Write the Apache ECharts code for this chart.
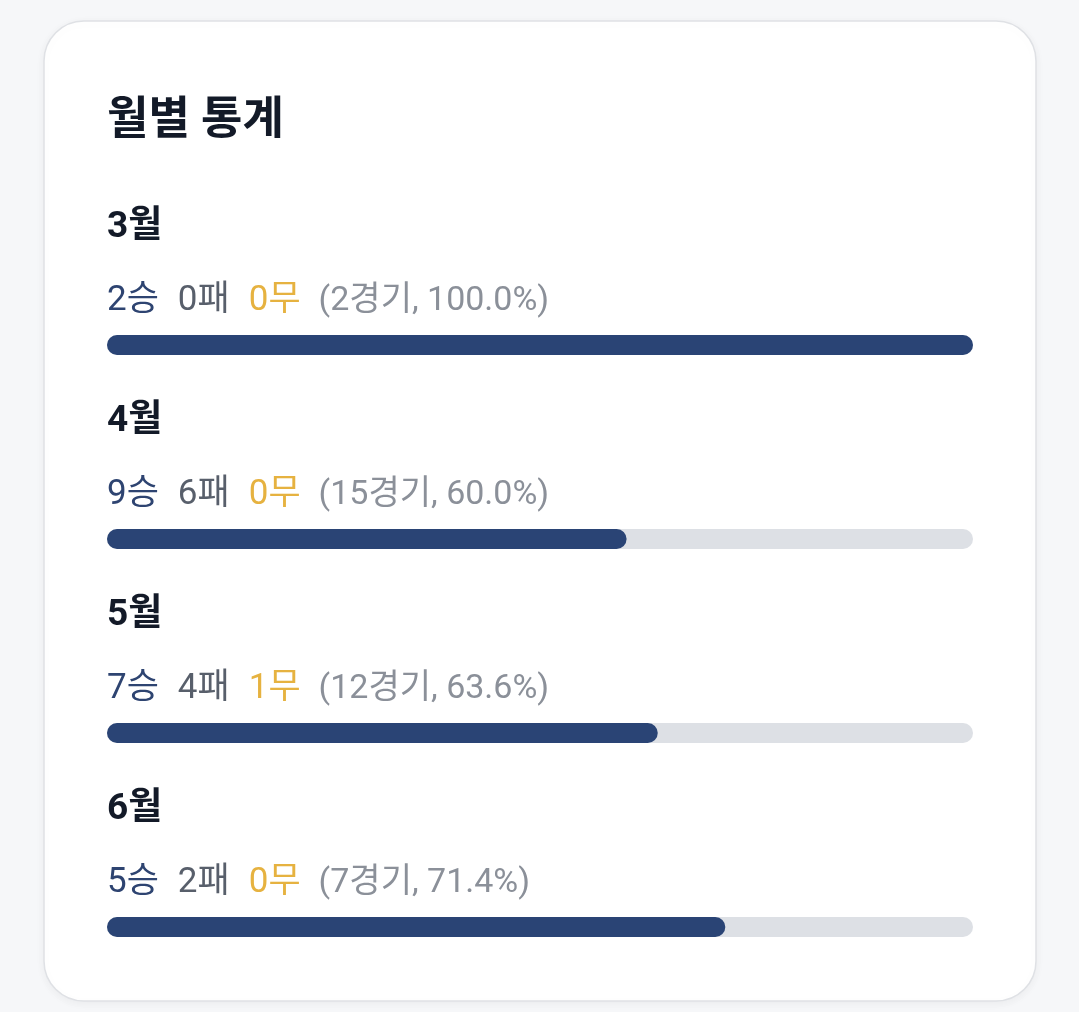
<!DOCTYPE html>
<html>
<head>
<meta charset="utf-8">
<script src="https://cdn.jsdelivr.net/npm/echarts@6/dist/echarts.min.js"></script>
<style>
  html, body { margin: 0; padding: 0; background: #f6f7f9; }
  #chart { width: 1079px; height: 1012px; }
</style>
</head>
<body>
<div id="chart"></div>
<script>
// ---- data ----
const titleText = '월별 통계';
const months = ['3월', '4월', '5월', '6월'];
const wins = [2, 9, 7, 5];
const losses = [0, 6, 4, 2];
const draws = [0, 0, 1, 0];
const games = [2, 15, 12, 7];
const winRate = [100.0, 60.0, 63.6, 71.4];

const FONT = "Roboto, 'Noto Sans CJK KR', sans-serif";

const chart = echarts.init(document.getElementById('chart'), null, { renderer: 'canvas' });

const option = {
  backgroundColor: '#f6f7f9',
  animation: false,
  graphic: [{
    type: 'rect',
    z: 0,
    shape: { x: 44, y: 21, width: 992, height: 980, r: 40 },
    style: {
      fill: '#ffffff',
      stroke: '#dfe1e5',
      lineWidth: 1.5,
      shadowBlur: 10,
      shadowColor: 'rgba(0,0,0,0.05)',
      shadowOffsetY: 2
    }
  }],
  title: {
    text: titleText,
    left: 107,
    top: 100,
    padding: 0,
    textStyle: { fontFamily: FONT, fontSize: 45, fontWeight: 'bold', color: '#131a28' }
  },
  grid: { left: 107, top: 248, width: 866, height: 776, outerBoundsMode: 'none' },
  xAxis: { type: 'value', min: 0, max: 100, show: false },
  yAxis: { type: 'category', data: months, inverse: true, show: false },
  series: [{
    type: 'bar',
    data: winRate,
    barWidth: 20,
    itemStyle: { color: '#2a4475', borderRadius: 10 },
    showBackground: true,
    backgroundStyle: { color: '#dde0e5', borderRadius: 10 },
    label: {
      show: true,
      position: [0, 0],
      align: 'left',
      verticalAlign: 'bottom',
      formatter: function (p) {
        const i = p.dataIndex;
        return '{m|' + months[i] + '}\n' +
          '{w|' + wins[i] + '승}{l|' + losses[i] + '패}{d|' + draws[i] + '무}{g|(' +
          games[i] + '경기, ' + winRate[i].toFixed(1) + '%)}';
      },
      rich: {
        m: { fontFamily: FONT, fontSize: 37, fontWeight: 'bold', color: '#131a28', lineHeight: 78 },
        w: { fontFamily: FONT, fontSize: 35, color: '#2e4471', lineHeight: 68, padding: [0, 19, 0, 0] },
        l: { fontFamily: FONT, fontSize: 35, color: '#585f6b', lineHeight: 68, padding: [0, 19, 0, 0] },
        d: { fontFamily: FONT, fontSize: 35, color: '#e6b240', lineHeight: 68, padding: [0, 18, 0, 0] },
        g: { fontFamily: FONT, fontSize: 34, color: '#8b9099', lineHeight: 68 }
      }
    }
  }]
};

chart.setOption(option);
</script>
</body>
</html>
